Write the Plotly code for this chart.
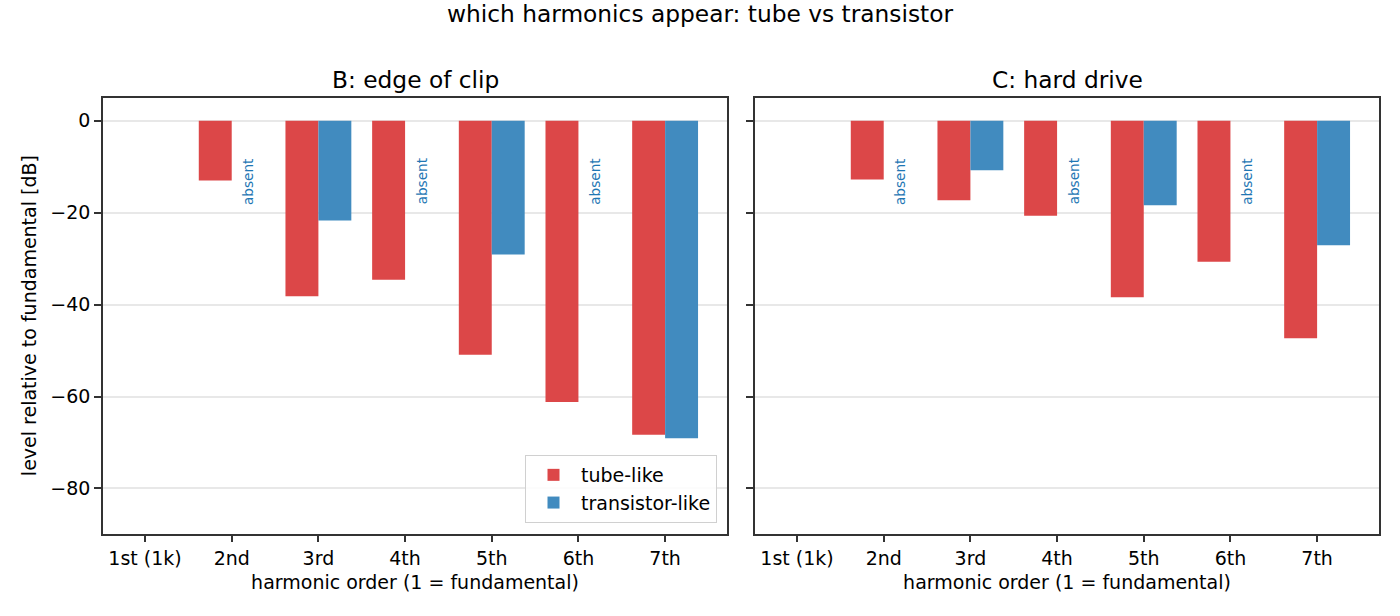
import plotly.graph_objects as go

# ---- data ----
harmonics = ["1st (1k)", "2nd", "3rd", "4th", "5th", "6th", "7th"]
panel_titles = ["B: edge of clip", "C: hard drive"]
tube_B = [None, -13.0, -38.2, -34.6, -50.9, -61.2, -68.3]
trans_B = [None, None, -21.7, None, -29.1, None, -69.1]
tube_C = [None, -12.8, -17.3, -20.7, -38.4, -30.7, -47.3]
trans_C = [None, None, -10.8, None, -18.4, None, -27.1]
series_names = ["tube-like", "transistor-like"]
yticks = [0, -20, -40, -60, -80]

RED = "rgb(220,71,72)"
BLUE = "rgb(65,139,191)"
TXT_BLUE = "#1f77b4"
FONT = "DejaVu Sans"
W, H = 1400, 616

fig = go.Figure()

panels = [(tube_B, trans_B, "x", "y"), (tube_C, trans_C, "x2", "y2")]
for k, (tube, trans, xa, ya) in enumerate(panels):
    fig.add_trace(go.Bar(x=harmonics, y=tube, name=series_names[0], marker_color=RED,
                         marker_line_width=0, xaxis=xa, yaxis=ya, offsetgroup="tube",
                         showlegend=(k == 0), legendgroup="tube"))
    fig.add_trace(go.Bar(x=harmonics, y=trans, name=series_names[1], marker_color=BLUE,
                         marker_line_width=0, xaxis=xa, yaxis=ya, offsetgroup="trans",
                         showlegend=(k == 0), legendgroup="trans"))
    # "absent" markers for missing transistor harmonics (not the fundamental)
    for i, v in enumerate(trans):
        if i > 0 and v is None:
            fig.add_annotation(x=i + 0.19, y=-13.3, xref=xa, yref=ya, text="absent",
                               textangle=-90, showarrow=False, xanchor="center",
                               yanchor="middle", font=dict(family=FONT, size=13.6, color=TXT_BLUE))

def px2x(p):
    return p / W

def px2y(p):
    return 1 - p / H

axis_common = dict(showline=True, linecolor="#333333", linewidth=1.5, mirror=True,
                   ticks="outside", ticklen=7, tickwidth=1.5, tickcolor="#333333",
                   tickfont=dict(family=FONT, size=19, color="black"))

xr = [-0.485, 6.714]
yr = [-89.8, 5]
ydom = [px2y(533.5), px2y(97.7)]
GRID = "rgba(210,210,210,0.5)"

fig.update_layout(
    width=W, height=H, autosize=False,
    margin=dict(l=0, r=0, t=0, b=0),
    paper_bgcolor="white", plot_bgcolor="white",
    barmode="group", bargap=0.24, bargroupgap=0,
    font=dict(family=FONT, size=19, color="black"),
    title=dict(text="which harmonics appear: tube vs transistor", x=0.5, xanchor="center",
               y=px2y(14), yanchor="middle", font=dict(family=FONT, size=23.3, color="black")),
    xaxis=dict(domain=[px2x(103), px2x(727)], range=xr, type="category", anchor="y",
               showgrid=False,
               title=dict(text="harmonic order (1 = fundamental)", standoff=8,
                          font=dict(family=FONT, size=19)), **axis_common),
    xaxis2=dict(domain=[px2x(755), px2x(1379)], range=xr, type="category", anchor="y2",
                showgrid=False,
                title=dict(text="harmonic order (1 = fundamental)", standoff=8,
                           font=dict(family=FONT, size=19)), **axis_common),
    yaxis=dict(domain=ydom, range=yr, anchor="x", tickvals=yticks,
               ticktext=[("\u2212" + str(-t)) if t < 0 else str(t) for t in yticks],
               showgrid=True, gridcolor=GRID, gridwidth=1.5, zeroline=False,
               layer="above traces",
               title=dict(text="level relative to fundamental [dB]", standoff=9,
                          font=dict(family=FONT, size=19)), **axis_common),
    yaxis2=dict(domain=ydom, range=yr, anchor="x2", matches="y", tickvals=yticks,
                showticklabels=False, showgrid=True, gridcolor=GRID,
                gridwidth=1.5, zeroline=False, layer="above traces", **axis_common),
    legend=dict(x=px2x(717), xanchor="right", y=px2y(523), yanchor="bottom",
                bgcolor="rgba(255,255,255,0.85)", bordercolor="#d0d0d0", borderwidth=1,
                font=dict(family=FONT, size=19, color="black"), traceorder="normal",
                itemwidth=45),
)

for k, t in enumerate(panel_titles):
    xc = (103 + 727) / 2 if k == 0 else (755 + 1379) / 2
    fig.add_annotation(x=px2x(xc), y=px2y(79), xref="paper", yref="paper", text=t,
                       showarrow=False, xanchor="center", yanchor="middle",
                       font=dict(family=FONT, size=23.3, color="black"))

fig.write_html("out.html", config={"displayModeBar": False},
               post_script="document.body.style.margin='0px';document.body.style.padding='0px';")
